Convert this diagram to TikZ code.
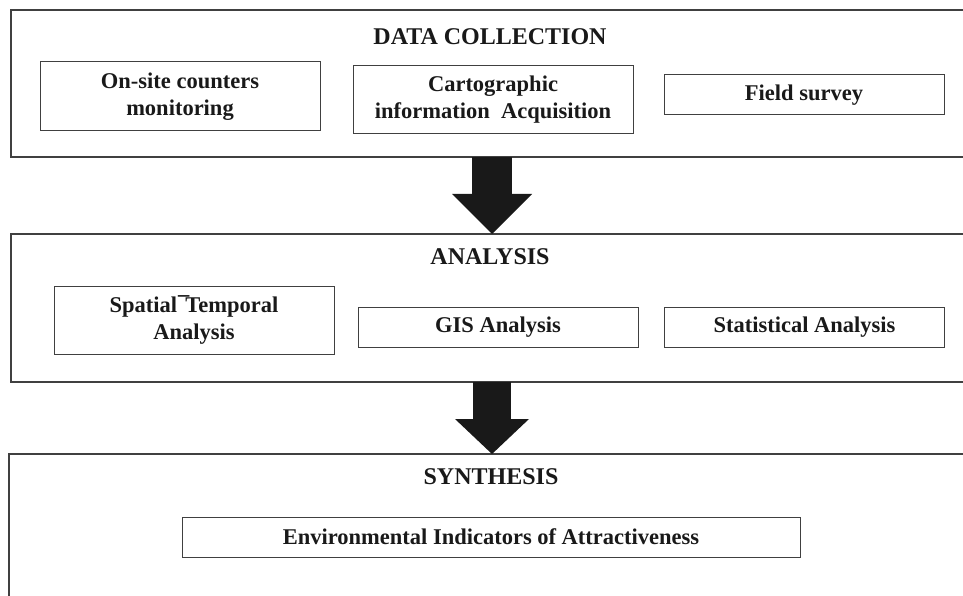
\documentclass[tikz,border=0pt]{standalone}
\usepackage{fontspec}
\setmainfont{Liberation Serif}
\usetikzlibrary{arrows.meta}

\tikzset{
    stage/.style={rectangle, draw=black!75, line width=1.2pt, minimum width=962pt, outer sep=0pt},
    task/.style={rectangle, draw=black!75, line width=1pt, minimum width=280pt, minimum height=40pt,
        align=center, inner sep=0pt, outer sep=0pt, text=black!90,
        font=\fontsize{22.5}{27}\selectfont\bfseries},
    heading/.style={inner sep=0pt, text=black!90, font=\fontsize{24}{28}\selectfont\bfseries},
    bigarrow/.style={line width=40pt, black!90, -{Triangle[width=80pt,length=40pt,line width=0pt]}}
}

\begin{document}
\begin{tikzpicture}[x=1pt, y=-1pt]
    \useasboundingbox (0,0) rectangle (963,596);
    \clip (0,0) rectangle (963,596);

    % the three stages
    \node (collect) [stage, minimum height=147pt] at (492,83.5) {};
    \node (analysis) [stage, minimum height=148pt] at (492,308) {};
    \node (synthesis) [stage, minimum width=966pt, minimum height=300pt] at (492,604) {};

    \node (collecttitle) [heading] at (490,37) {DATA COLLECTION};
    \node (analysistitle) [heading] at (490,257) {ANALYSIS};
    \node (synthesistitle) [heading] at (491,477) {SYNTHESIS};

    % data collection
    \node (counters) [task, minimum height=69pt] at (180,96.5) {On-site counters\\monitoring};
    \node (carto) [task, minimum height=68pt] at (493,100) {Cartographic\\information\ \ Acquisition};
    \node (survey) [task] at (804,95) {Field survey};

    % analysis
    \node (spatial) [task, minimum height=68pt] at (194,320) {Spatial\kern1pt¯\kern-4pt Temporal\\Analysis};
    \node (gis) [task] at (498,327) {GIS Analysis};
    \node (stats) [task] at (804.5,327) {Statistical Analysis};

    % synthesis
    \node (indicators) [task, minimum width=618pt] at (491,537) {Environmental Indicators of Attractiveness};

    \draw [bigarrow] (collect.south) -- (analysis.north);
    \draw [bigarrow, line width=38pt, -{Triangle[width=74pt,length=35pt,line width=0pt]}] (analysis.south) -- (synthesis.north);
\end{tikzpicture}
\end{document}
